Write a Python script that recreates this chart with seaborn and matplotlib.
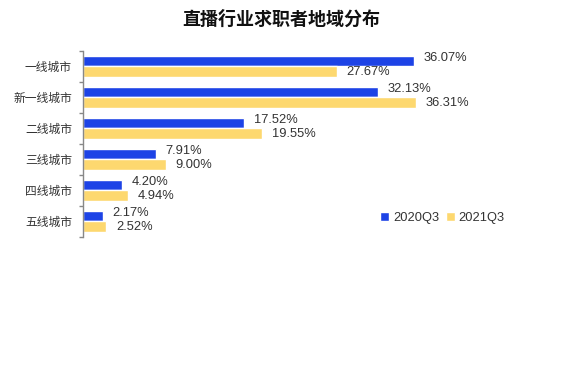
import matplotlib
matplotlib.use("Agg")
import matplotlib.pyplot as plt
import seaborn as sns
import pandas as pd
from matplotlib.ticker import FixedLocator

categories = ["一线城市", "新一线城市", "二线城市", "三线城市", "四线城市", "五线城市"]
series_names = ["2020Q3", "2021Q3"]
values_2020 = [36.07, 32.13, 17.52, 7.91, 4.20, 2.17]
values_2021 = [27.67, 36.31, 19.55, 9.00, 4.94, 2.52]
title = "直播行业求职者地域分布"

rows = []
for c, v in zip(categories, values_2020):
    rows.append({"city": c, "period": series_names[0], "value": v})
for c, v in zip(categories, values_2021):
    rows.append({"city": c, "period": series_names[1], "value": v})
df = pd.DataFrame(rows)

sns.set_theme(style="white")
plt.rcParams["font.family"] = ["Liberation Sans", "Noto Sans CJK SC", "DejaVu Sans"]

fig = plt.figure(figsize=(5.62, 3.65), dpi=100)
ax = fig.add_axes([0.1477, 0.3507, 0.8167, 0.5096])

palette = {"2020Q3": "#1d43e6", "2021Q3": "#fdd86f"}
sns.barplot(data=df, y="city", x="value", hue="period", order=categories,
            hue_order=series_names, palette=palette, orient="h", width=0.68,
            saturation=1, ax=ax, legend=True)

for i, cont in enumerate(ax.containers):
    labels = [f"{v:.2f}%" for v in cont.datavalues]
    texts = ax.bar_label(cont, labels=labels, padding=7, fontsize=9.3, color="#333333")
    if i == 0:
        for t in texts:
            t.set_y(t.get_position()[1] - 3)
            t.xyann = (t.xyann[0], 2)

ax.set_xlim(0, 50)
ax.set_ylim(len(categories) - 0.5, -0.5)
ax.set_xlabel("")
ax.set_ylabel("")
ax.set_xticks([])
for s in ["top", "right", "bottom"]:
    ax.spines[s].set_visible(False)
ax.spines["left"].set_color("#888888")
ax.spines["left"].set_linewidth(1.0)

ax.tick_params(axis="y", which="major", length=0, pad=8, labelsize=8.5, labelcolor="#333333")
ax.yaxis.set_minor_locator(FixedLocator([i - 0.5 for i in range(len(categories) + 1)]))
ax.tick_params(axis="y", which="minor", length=3, width=1, color="#888888", direction="out", left=True)

leg = ax.legend(loc="center left", bbox_to_anchor=(380 / 562, 1 - 218 / 365),
                bbox_transform=fig.transFigure, ncol=2, frameon=False, fontsize=9.3,
                handlelength=0.7, handleheight=0.7, handletextpad=0.3,
                columnspacing=0.5, borderpad=0, borderaxespad=0)
for t in leg.get_texts():
    t.set_color("#333333")

fig.text(0.5, 1 - 20 / 365, title, ha="center", va="center", fontsize=13,
         fontweight="bold", color="#111111")

fig.savefig("out.png", dpi=100)
